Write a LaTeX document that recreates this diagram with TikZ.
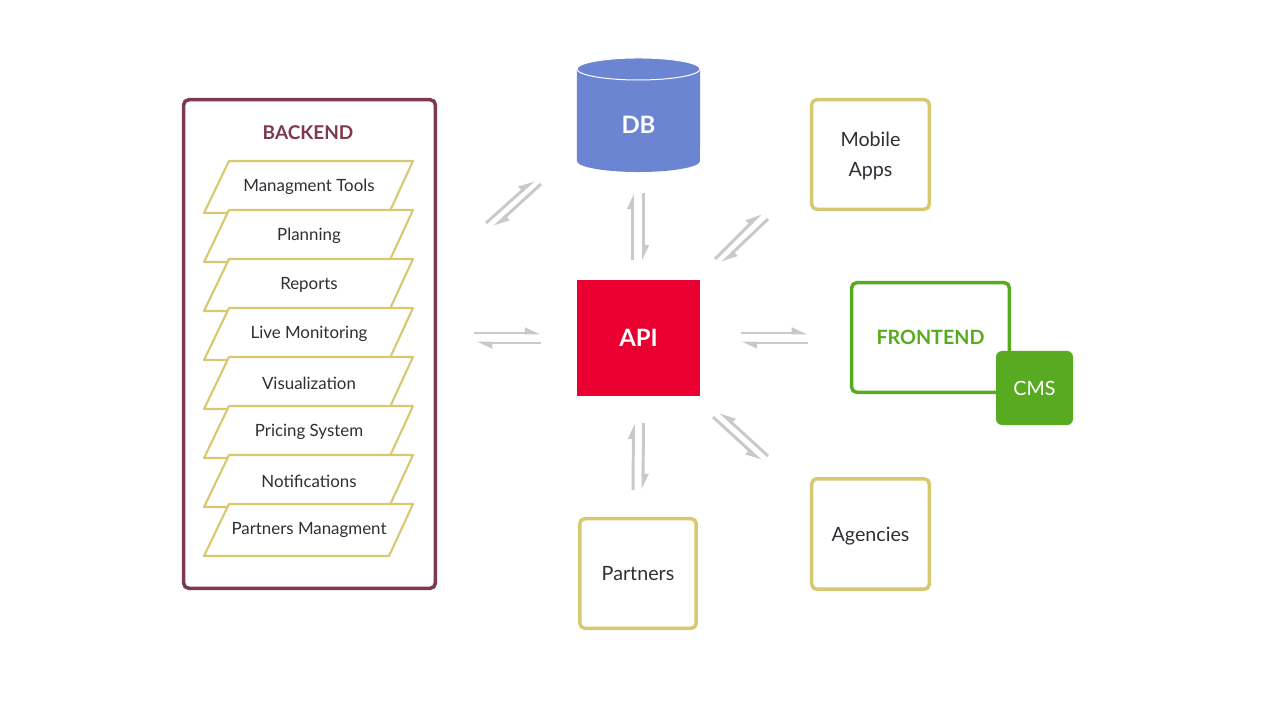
\documentclass[tikz,border=0pt]{standalone}
\usepackage{fontspec}
\setmainfont{Lato}
\usepackage{tikz}
\usetikzlibrary{arrows.meta,calc,positioning}

\definecolor{backendred}{RGB}{125,58,76}
\definecolor{boxyellow}{RGB}{216,200,112}
\definecolor{dbblue}{RGB}{107,133,210}
\definecolor{apired}{RGB}{234,0,48}
\definecolor{frontgreen}{RGB}{88,171,32}
\definecolor{flowgray}{RGB}{200,201,204}
\definecolor{textdark}{RGB}{45,48,53}

\tikzset{
  backendbox/.style={draw=backendred, line width=2.5pt, rounded corners=3.6pt, minimum width=6.29cm, minimum height=12.21cm},
  client/.style={draw=boxyellow, line width=2.5pt, rounded corners=3.6pt, fill=white, text=textdark,
    font=\fontsize{14}{21}\selectfont, align=center, text depth=0pt},
  tool/.style={draw=boxyellow, line width=1.5pt, fill=white, line join=round},
  toollabel/.style={text=textdark, font=\fontsize{12}{14}\selectfont},
  solid box/.style={text=white, inner sep=0pt, outer sep=0pt},
  flow/.style={draw=flowgray, line width=2.1pt, -{Triangle[harpoon, length=9pt, width=7.5pt]}},
  flowswap/.style={draw=flowgray, line width=2.1pt, -{Triangle[harpoon, swap, length=9pt, width=7.5pt]}},
}

\begin{document}
\begin{tikzpicture}[x=0.025cm, y=-0.025cm]
  \useasboundingbox (0,0) rectangle (1280,708);
  \fill[white] (0,0) rectangle (1280,708);

  % backend with its modules
  \node[backendbox] (backend) at (309.5,344) {};
  \node[font=\bfseries\fontsize{13.5}{16}\selectfont, text=backendred] (backend-title) at (308,133) {BACKEND};
  \foreach \lbl [count=\i from 0] in {Managment Tools, Planning, Reports, Live Monitoring, Visualization, Pricing System, Notifications, Partners Managment} {
    \pgfmathsetmacro{\ytop}{161+49*\i}
    \draw[tool] (204,\ytop+52) -- (229,\ytop) -- (413,\ytop) -- (389,\ytop+52) -- cycle;
    \node[toollabel] (tool-\i) at (309,\ytop+26) {\lbl};
  }

  % database
  \node[minimum width=3.075cm, minimum height=2.85cm, inner sep=0pt, outer sep=0pt] (db) at (638.5,115) {};
  \fill[dbblue] ($(db.north west)+(0,11)$) -- ($(db.south west)+(0,-11)$)
    arc[start angle=180, end angle=0, x radius=61.5, y radius=11] -- ($(db.north east)+(0,11)$) -- cycle;
  \fill[dbblue] ($(db.north)+(0,11)$) ellipse [x radius=61.5, y radius=11];
  \draw[white, line width=0.7pt] ($(db.north)+(0,11)$) ellipse [x radius=61.5, y radius=11];
  \node[text=white, font=\bfseries\fontsize{17}{20}\selectfont] (db-label) at ($(db.center)+(0,10)$) {DB};

  % api
  \node[solid box, fill=apired, minimum width=3.075cm, minimum height=2.9cm,
    font=\bfseries\fontsize{17}{20}\selectfont] (api) at (638.5,338) {API};

  % clients
  \node[client, minimum width=2.94cm, minimum height=2.74cm] (mobile) at (870.5,154.5) {Mobile\\Apps};
  \node[client, draw=frontgreen, text=frontgreen, font=\bfseries\fontsize{14}{16}\selectfont,
    minimum width=3.94cm, minimum height=2.74cm] (frontend) at (930.5,337.5) {FRONTEND};
  \node[solid box, fill=frontgreen, rounded corners=4.3pt, minimum width=1.925cm, minimum height=1.85cm,
    font=\fontsize{14}{16}\selectfont] (cms) at (1034.5,388) {CMS};
  \node[client, minimum width=2.94cm, minimum height=2.76cm] (agencies) at (870.5,534) {Agencies};
  \node[client, minimum width=2.91cm, minimum height=2.74cm] (partners) at (638,573.5) {Partners};

  % connectors
  \draw[flow] ($(backend.east|-api.west)+(37,-5)$) -- ($(api.west)+(-36,-5)$);
  \draw[flow] ($(api.west)+(-36,5)$) -- ($(backend.east|-api.west)+(39,5)$);
  \draw[flow] ($(api.east)+(41,-5)$) -- ($(frontend.west|-api.east)+(-42,-5)$);
  \draw[flow] ($(frontend.west|-api.east)+(-42,5)$) -- ($(api.east)+(41,5)$);
  \draw[flow] ($(api.north)+(-6,-20)$) -- ($(db.south)+(-6,21)$);
  \draw[flow] ($(db.south)+(5,21)$) -- ($(api.north)+(5,-19)$);
  \draw[flow] ($(partners.north)+(-5,-27)$) -- ($(api.south)+(-5,27)$);
  \draw[flow] ($(api.south)+(5,27)$) -- ($(partners.north)+(5,-27)$);

  \coordinate (bd-a) at (486,223);
  \coordinate (bd-b) at (534,180);
  \coordinate (bd-c) at (541,184);
  \coordinate (bd-d) at (494,227);
  \draw[flow] (bd-a) -- (bd-b);
  \draw[flow] (bd-c) -- (bd-d);

  \coordinate (am-a) at (715,259);
  \coordinate (am-b) at (761,213);
  \coordinate (am-c) at (768,219);
  \coordinate (am-d) at (722,263);
  \draw[flow] (am-a) -- (am-b);
  \draw[flow] (am-c) -- (am-d);

  \coordinate (ag-a) at (713,417);
  \coordinate (ag-b) at (761,461);
  \coordinate (ag-c) at (768,456);
  \coordinate (ag-d) at (720,412);
  \draw[flowswap] (ag-a) -- (ag-b);
  \draw[flowswap] (ag-c) -- (ag-d);
\end{tikzpicture}
\end{document}
